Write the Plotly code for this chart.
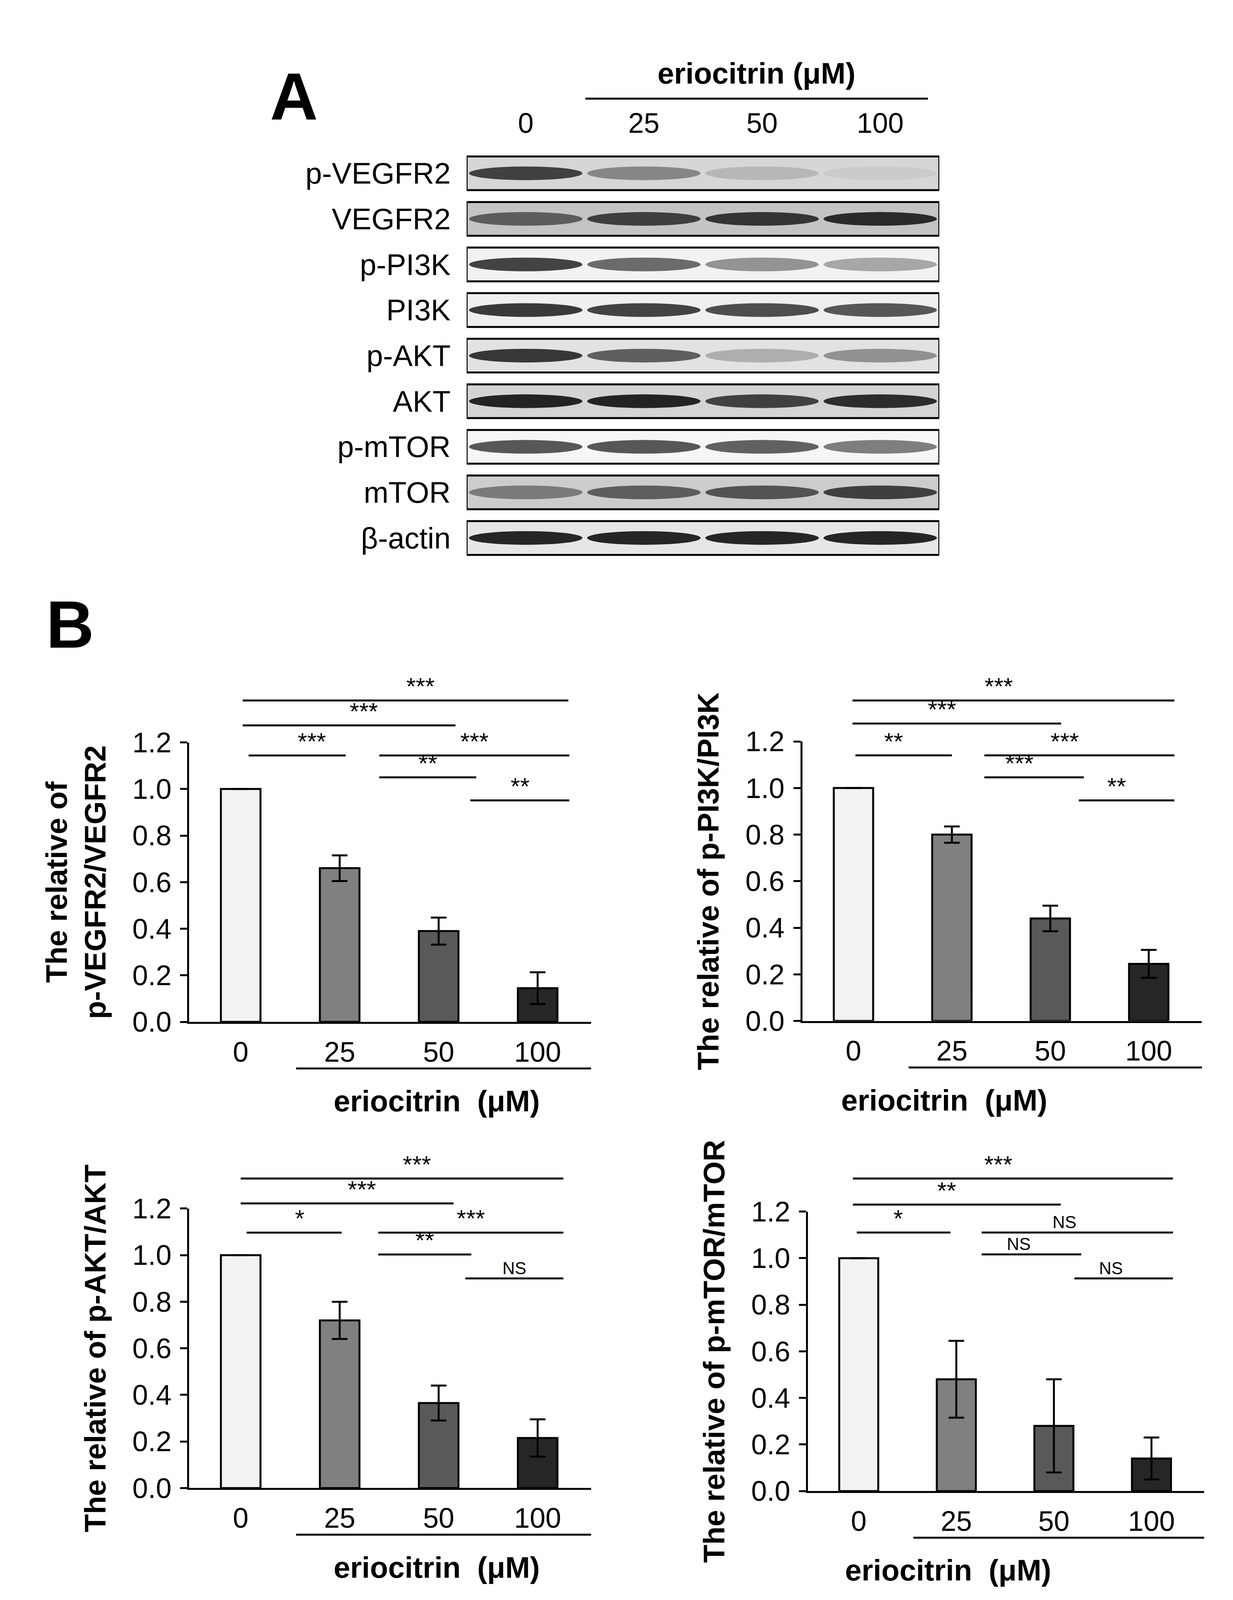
import plotly.graph_objects as go

# ---- data ----
doses = ["0", "25", "50", "100"]
bar_colors = ["#f2f2f2", "#808080", "#595959", "#262626"]

vegfr_mean = [1.0, 0.66, 0.39, 0.145]
vegfr_err = [0, 0.055, 0.058, 0.068]
pi3k_mean = [1.0, 0.80, 0.44, 0.245]
pi3k_err = [0, 0.035, 0.055, 0.06]
akt_mean = [1.0, 0.72, 0.365, 0.215]
akt_err = [0, 0.08, 0.075, 0.08]
mtor_mean = [1.0, 0.48, 0.28, 0.14]
mtor_err = [0, 0.165, 0.2, 0.09]

# significance brackets: (x0, x1, y, label) in data units
vegfr_sig = [(0.02, 3.31, 1.38, "***"), (0.02, 2.17, 1.273, "***"), (0.08, 1.06, 1.144, "***"),
             (1.40, 3.32, 1.144, "***"), (1.40, 2.38, 1.05, "**"), (2.32, 3.32, 0.951, "**")]
pi3k_sig = [(-0.01, 3.26, 1.376, "***"), (-0.01, 2.11, 1.277, "***"), (0.02, 1.0, 1.14, "**"),
            (1.33, 3.26, 1.14, "***"), (1.33, 2.34, 1.046, "***"), (2.29, 3.26, 0.947, "**")]
akt_sig = [(0.0, 3.26, 1.329, "***"), (0.0, 2.15, 1.222, "***"), (0.06, 1.02, 1.097, "*"),
           (1.39, 3.26, 1.097, "***"), (1.39, 2.33, 1.003, "**"), (2.27, 3.26, 0.90, "NS")]
mtor_sig = [(-0.06, 3.22, 1.342, "***"), (-0.06, 2.07, 1.23, "**"), (-0.02, 0.94, 1.11, "*"),
            (1.26, 3.22, 1.11, "NS"), (1.26, 2.28, 1.016, "NS"), (2.21, 3.22, 0.913, "NS")]

# western blot: row label, background grey, band darkness per lane
blot_rows = ["p-VEGFR2", "VEGFR2", "p-PI3K", "PI3K", "p-AKT", "AKT", "p-mTOR", "mTOR", "β-actin"]
blot_bg = ["#d6d6d6", "#c4c4c4", "#f2f2f2", "#efefef", "#e2e2e2", "#d4d4d4", "#f6f6f6", "#cccccc", "#e6e6e6"]
blot_bands = [[0.85, 0.5, 0.25, 0.15], [0.7, 0.85, 0.9, 0.95], [0.85, 0.65, 0.45, 0.35],
              [0.9, 0.85, 0.8, 0.75], [0.9, 0.7, 0.3, 0.45], [1.0, 1.0, 0.85, 0.95],
              [0.75, 0.75, 0.7, 0.55], [0.55, 0.7, 0.75, 0.85], [1.0, 1.0, 1.0, 1.0]]

FONT = "Liberation Sans, Arial, sans-serif"
W, H = 3156, 4120
DW, DH = 1080.0, 1581.0  # design units of the reference
LW = 5


def px(xd):
    return xd / DW


def py(yd):
    return 1 - yd / DH


XR = [-0.52, 3.54]
YR = [0, 1.2]
panels = [
    (vegfr_mean, vegfr_err, vegfr_sig, "The relative of<br>p-VEGFR2/VEGFR2",
     [px(163), px(515)], [py(1005), py(725)], ""),
    (pi3k_mean, pi3k_err, pi3k_sig, "The relative of p-PI3K/PI3K",
     [px(700), px(1050)], [py(1004), py(724)], "2"),
    (akt_mean, akt_err, akt_sig, "The relative of p-AKT/AKT",
     [px(163), px(515)], [py(1472), py(1192)], "3"),
    (mtor_mean, mtor_err, mtor_sig, "The relative of p-mTOR/mTOR",
     [px(705), px(1052)], [py(1475), py(1195)], "4"),
]

fig = go.Figure()
shapes = []
annos = []


def dx(dom, v):
    return dom[0] + (v - XR[0]) / (XR[1] - XR[0]) * (dom[1] - dom[0])


def dy(dom, v):
    return dom[0] + (v - YR[0]) / (YR[1] - YR[0]) * (dom[1] - dom[0])


for i, (means, errs, sig, title, xdom, ydom, s) in enumerate(panels):
    fig.add_trace(go.Bar(
        x=list(range(4)), y=means, width=0.4, xaxis="x" + s, yaxis="y" + s,
        marker=dict(color=bar_colors, line=dict(color="black", width=LW)),
        error_y=dict(type="data", array=errs, color="black", thickness=LW, width=20,
                     visible=True),
        showlegend=False))
    xa = dict(domain=xdom, range=XR, tickvals=list(range(4)), ticktext=doses,
              showline=True, linecolor="black", linewidth=LW, ticks="", showgrid=False,
              zeroline=False, tickfont=dict(size=72, color="black", family=FONT),
              anchor="y" + s, ticklabelstandoff=10)
    ya = dict(domain=ydom, range=YR, tickvals=[0, 0.2, 0.4, 0.6, 0.8, 1.0, 1.2],
              ticktext=["0.0", "0.2", "0.4", "0.6", "0.8", "1.0", "1.2"],
              showline=True, linecolor="black", linewidth=LW, ticks="outside",
              ticklen=18, tickwidth=LW, tickcolor="black", showgrid=False, zeroline=False,
              tickfont=dict(size=72, color="black", family=FONT), anchor="x" + s,
              ticklabelstandoff=8,
              title=dict(text="<b>" + title + "</b>", standoff=45,
                         font=dict(size=76, color="black", family=FONT)))
    fig.update_layout({"xaxis" + s: xa, "yaxis" + s: ya})
    for x0, x1, yv, lab in sig:
        shapes.append(dict(type="line", xref="paper", yref="paper",
                           x0=dx(xdom, x0), x1=dx(xdom, x1), y0=dy(ydom, yv), y1=dy(ydom, yv),
                           line=dict(color="black", width=LW)))
        annos.append(dict(xref="paper", yref="paper", x=(dx(xdom, x0) + dx(xdom, x1)) / 2,
                          y=dy(ydom, yv), yanchor="bottom", showarrow=False, text=lab,
                          font=dict(size=62 if lab != "NS" else 44, color="black", family=FONT)))
    # dose underline and label
    y_line = dy(ydom, -0.2)
    shapes.append(dict(type="line", xref="paper", yref="paper", x0=dx(xdom, 0.56),
                       x1=xdom[1], y0=y_line, y1=y_line, line=dict(color="black", width=LW)))
    annos.append(dict(xref="paper", yref="paper", x=dx(xdom, 1.98), y=dy(ydom, -0.34),
                      yanchor="middle", showarrow=False, text="<b>eriocitrin  (μM)</b>",
                      font=dict(size=76, color="black", family=FONT)))

# ---- panel A: western blot on its own axis ----
bx = [px(406), px(820)]
by = [py(543), py(132)]
fig.add_trace(go.Scatter(x=[0], y=[0], xaxis="x5", yaxis="y5", mode="markers",
                         marker=dict(opacity=0), showlegend=False, hoverinfo="skip"))
fig.update_layout(
    xaxis5=dict(domain=bx, range=[-0.5, 3.5], side="top", tickvals=list(range(4)),
                ticktext=doses, showline=False, showgrid=False, zeroline=False, ticks="",
                tickfont=dict(size=72, color="black", family=FONT), anchor="y5",
                ticklabelstandoff=30),
    yaxis5=dict(domain=by, range=[8.5, -0.5], tickvals=list(range(len(blot_rows))),
                ticktext=blot_rows, showline=False, showgrid=False, zeroline=False, ticks="",
                tickfont=dict(size=76, color="black", family=FONT), anchor="x5",
                ticklabelstandoff=40),
)
for r, (bg, bands) in enumerate(zip(blot_bg, blot_bands)):
    shapes.append(dict(type="rect", xref="x5", yref="y5", x0=-0.5, x1=3.5, y0=r - 0.37,
                       y1=r + 0.37, fillcolor=bg, line=dict(color="black", width=LW),
                       layer="below"))
    for lane, d in enumerate(bands):
        g = int(235 - 220 * d)
        shapes.append(dict(type="circle", xref="x5", yref="y5", x0=lane - 0.48, x1=lane + 0.48,
                           y0=r - 0.15, y1=r + 0.15, fillcolor=f"rgb({g},{g},{g})",
                           line=dict(width=0), opacity=0.9))

annos.append(dict(xref="paper", yref="paper", x=px(233), y=py(40), showarrow=False,
                  text="<b>A</b>", font=dict(size=170, color="black", family=FONT)))
annos.append(dict(xref="paper", yref="paper", x=px(37), y=py(607), showarrow=False,
                  text="<b>B</b>", font=dict(size=170, color="black", family=FONT)))
annos.append(dict(xref="paper", yref="paper", x=px(660), y=py(72), yanchor="bottom",
                  showarrow=False, text="<b>eriocitrin (μM)</b>",
                  font=dict(size=76, color="black", family=FONT)))
shapes.append(dict(type="line", xref="paper", yref="paper", x0=px(510), x1=px(810),
                   y0=py(80), y1=py(80), line=dict(color="black", width=LW)))

fig.update_layout(width=W, height=H, margin=dict(l=0, r=0, t=0, b=0),
                  paper_bgcolor="white", plot_bgcolor="white",
                  shapes=shapes, annotations=annos, bargap=0.5)
fig.write_html("out.html")
